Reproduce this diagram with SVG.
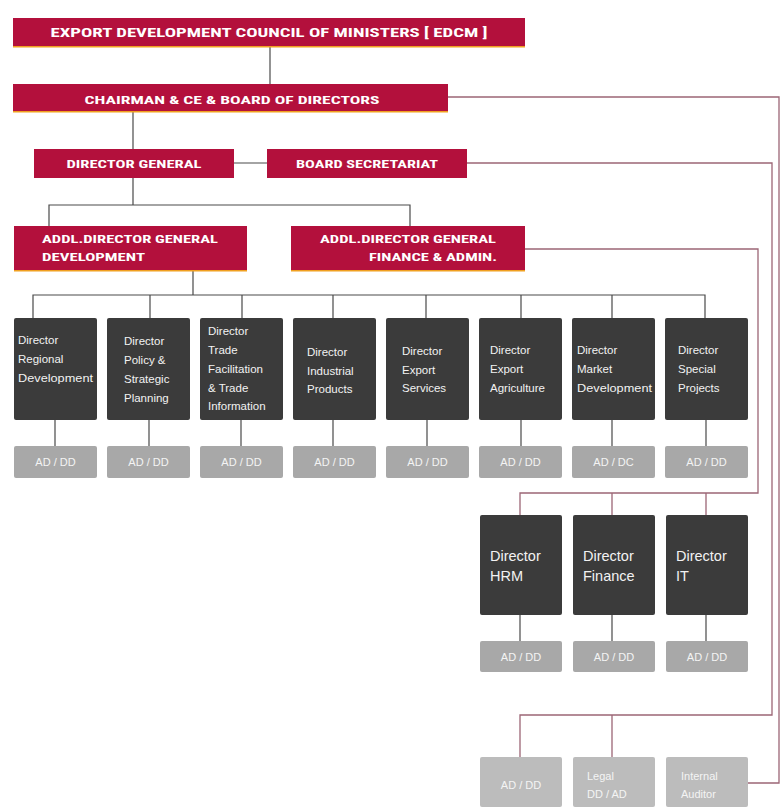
<svg xmlns="http://www.w3.org/2000/svg" width="780" height="810" viewBox="0 0 780 810">
<defs>
<style>
.red{fill:#b3103c;}
.redline{fill:#f0a020;}
.dark{fill:#3b3b3b;}
.gray{fill:#a8a8a8;}
.lgray{fill:#bcbcbc;}
.hd{font-family:"Liberation Sans Narrow","Roboto Condensed","Liberation Sans",sans-serif;font-weight:bold;fill:#fff;font-size:12px;}
.dt{font-family:"Liberation Sans","Roboto",sans-serif;fill:#f2f2f2;font-size:11.5px;}
.dt2{font-family:"Liberation Sans","Roboto",sans-serif;fill:#f2f2f2;font-size:14.5px;}
.ad{font-family:"Liberation Sans","Roboto",sans-serif;fill:#f4f4f4;font-size:11px;text-anchor:middle;}
.c{stroke:#4a4a4a;stroke-width:1.2;fill:none;}
.p{stroke:#9c6676;stroke-width:1.3;fill:none;}
</style>
</defs>
<rect width="780" height="810" fill="#ffffff"/>

<g id="connectors">
<path class="c" d="M270 47V84"/>
<path class="c" d="M133 112V149"/>
<path class="c" d="M234 163H267"/>
<path class="c" d="M133 178V205M49 226V205H410V226"/>
<path class="c" d="M193 271V295M33 318V295H705V318M150 295V318M242 295V318M333 295V318M426 295V318M521 295V318M612 295V318"/>
<path class="c" d="M55 420V446M149 420V446M241 420V446M333 420V446M427 420V446M521 420V446M612 420V446M706 420V446"/>
<path class="p" d="M525 249H758V493H520V515M612 493V515M706 493V515"/>
<path class="c" d="M520 615V641M612 615V641M706 615V641"/>
<path class="p" d="M467 163H772V715H520V757M612 715V757"/>
<path class="p" d="M448 97H779V783H748"/>
</g>

<g id="edcm">
<rect class="red" x="13" y="18" width="512" height="29"/>
<rect class="redline" x="13" y="46" width="512" height="1.5"/>
<text class="hd" x="269" y="37" text-anchor="middle" textLength="437" lengthAdjust="spacingAndGlyphs">EXPORT DEVELOPMENT COUNCIL OF MINISTERS [ EDCM ]</text>
</g>

<g id="chairman">
<rect class="red" x="13" y="84" width="435" height="28"/>
<rect class="redline" x="13" y="111" width="435" height="1.5"/>
<text class="hd" x="232" y="104" text-anchor="middle" textLength="295" lengthAdjust="spacingAndGlyphs" style="font-size:11px">CHAIRMAN &amp; CE &amp; BOARD OF DIRECTORS</text>
</g>

<g id="director-general">
<rect class="red" x="34" y="149" width="200" height="29"/>
<text class="hd" x="134" y="168" text-anchor="middle" textLength="135" lengthAdjust="spacingAndGlyphs" style="font-size:11px">DIRECTOR GENERAL</text>
</g>

<g id="board-secretariat">
<rect class="red" x="267" y="149" width="200" height="29"/>
<text class="hd" x="367" y="168" text-anchor="middle" textLength="142" lengthAdjust="spacingAndGlyphs" style="font-size:11px">BOARD SECRETARIAT</text>
</g>

<g id="adg-development">
<rect class="red" x="14" y="226" width="233" height="45"/>
<rect class="redline" x="14" y="270" width="233" height="1.5"/>
<text class="hd" x="42" y="243" textLength="176" lengthAdjust="spacingAndGlyphs" style="font-size:11px">ADDL.DIRECTOR GENERAL</text>
<text class="hd" x="42" y="261" textLength="103" lengthAdjust="spacingAndGlyphs" style="font-size:11px">DEVELOPMENT</text>
</g>

<g id="adg-finance">
<rect class="red" x="291" y="226" width="234" height="45"/>
<rect class="redline" x="291" y="270" width="234" height="1.5"/>
<text class="hd" x="320" y="243" textLength="176" lengthAdjust="spacingAndGlyphs" style="font-size:11px">ADDL.DIRECTOR GENERAL</text>
<text class="hd" x="497" y="261" text-anchor="end" textLength="128" lengthAdjust="spacingAndGlyphs" style="font-size:11px">FINANCE &amp; ADMIN.</text>
</g>

<g id="dir-regional">
<rect class="dark" x="14" y="318" width="83" height="102" rx="2"/>
<text class="dt" x="18" y="344">Director</text>
<text class="dt" x="18" y="363">Regional</text>
<text class="dt" x="18" y="382" textLength="75" lengthAdjust="spacingAndGlyphs">Development</text>
</g>
<g id="ad-regional"><rect class="gray" x="14" y="446" width="83" height="32" rx="2"/><text class="ad" x="55.5" y="466">AD / DD</text></g>

<g id="dir-policy">
<rect class="dark" x="107" y="318" width="83" height="102" rx="2"/>
<text class="dt" x="124" y="345">Director</text>
<text class="dt" x="124" y="364">Policy &amp;</text>
<text class="dt" x="124" y="383">Strategic</text>
<text class="dt" x="124" y="402">Planning</text>
</g>
<g id="ad-policy"><rect class="gray" x="107" y="446" width="83" height="32" rx="2"/><text class="ad" x="148.5" y="466">AD / DD</text></g>

<g id="dir-trade">
<rect class="dark" x="200" y="318" width="83" height="102" rx="2"/>
<text class="dt" x="208" y="335">Director</text>
<text class="dt" x="208" y="354">Trade</text>
<text class="dt" x="208" y="373">Facilitation</text>
<text class="dt" x="208" y="392">&amp; Trade</text>
<text class="dt" x="208" y="410">Information</text>
</g>
<g id="ad-trade"><rect class="gray" x="200" y="446" width="83" height="32" rx="2"/><text class="ad" x="241.5" y="466">AD / DD</text></g>

<g id="dir-industrial">
<rect class="dark" x="293" y="318" width="83" height="102" rx="2"/>
<text class="dt" x="307" y="356">Director</text>
<text class="dt" x="307" y="375">Industrial</text>
<text class="dt" x="307" y="393">Products</text>
</g>
<g id="ad-industrial"><rect class="gray" x="293" y="446" width="83" height="32" rx="2"/><text class="ad" x="334.5" y="466">AD / DD</text></g>

<g id="dir-services">
<rect class="dark" x="386" y="318" width="83" height="102" rx="2"/>
<text class="dt" x="402" y="355">Director</text>
<text class="dt" x="402" y="374">Export</text>
<text class="dt" x="402" y="392">Services</text>
</g>
<g id="ad-services"><rect class="gray" x="386" y="446" width="83" height="32" rx="2"/><text class="ad" x="427.5" y="466">AD / DD</text></g>

<g id="dir-agriculture">
<rect class="dark" x="479" y="318" width="83" height="102" rx="2"/>
<text class="dt" x="490" y="354">Director</text>
<text class="dt" x="490" y="373">Export</text>
<text class="dt" x="490" y="392">Agriculture</text>
</g>
<g id="ad-agriculture"><rect class="gray" x="479" y="446" width="83" height="32" rx="2"/><text class="ad" x="520.5" y="466">AD / DD</text></g>

<g id="dir-market">
<rect class="dark" x="572" y="318" width="83" height="102" rx="2"/>
<text class="dt" x="577" y="354">Director</text>
<text class="dt" x="577" y="373">Market</text>
<text class="dt" x="577" y="392" textLength="75" lengthAdjust="spacingAndGlyphs">Development</text>
</g>
<g id="ad-market"><rect class="gray" x="572" y="446" width="83" height="32" rx="2"/><text class="ad" x="613.5" y="466">AD / DC</text></g>

<g id="dir-special">
<rect class="dark" x="665" y="318" width="83" height="102" rx="2"/>
<text class="dt" x="678" y="354">Director</text>
<text class="dt" x="678" y="373">Special</text>
<text class="dt" x="678" y="392">Projects</text>
</g>
<g id="ad-special"><rect class="gray" x="665" y="446" width="83" height="32" rx="2"/><text class="ad" x="706.5" y="466">AD / DD</text></g>

<g id="dir-hrm">
<rect class="dark" x="480" y="515" width="82" height="100" rx="2"/>
<text class="dt2" x="490" y="561">Director</text>
<text class="dt2" x="490" y="581">HRM</text>
</g>
<g id="ad-hrm"><rect class="gray" x="480" y="641" width="82" height="31" rx="2"/><text class="ad" x="521" y="661">AD / DD</text></g>

<g id="dir-finance">
<rect class="dark" x="573" y="515" width="82" height="100" rx="2"/>
<text class="dt2" x="583" y="561">Director</text>
<text class="dt2" x="583" y="581">Finance</text>
</g>
<g id="ad-finance"><rect class="gray" x="573" y="641" width="82" height="31" rx="2"/><text class="ad" x="614" y="661">AD / DD</text></g>

<g id="dir-it">
<rect class="dark" x="666" y="515" width="82" height="100" rx="2"/>
<text class="dt2" x="676" y="561">Director</text>
<text class="dt2" x="676" y="581">IT</text>
</g>
<g id="ad-it"><rect class="gray" x="666" y="641" width="82" height="31" rx="2"/><text class="ad" x="707" y="661">AD / DD</text></g>

<g id="sec-ad">
<rect class="lgray" x="480" y="757" width="82" height="50" rx="2"/>
<text class="ad" x="521" y="789">AD / DD</text>
</g>
<g id="legal">
<rect class="lgray" x="573" y="757" width="82" height="50" rx="2"/>
<text class="ad" x="587" y="780" style="text-anchor:start">Legal</text>
<text class="ad" x="587" y="798" style="text-anchor:start">DD / AD</text>
</g>
<g id="internal-auditor">
<rect class="lgray" x="666" y="757" width="82" height="50" rx="2"/>
<text class="ad" x="681" y="780" style="text-anchor:start">Internal</text>
<text class="ad" x="681" y="798" style="text-anchor:start">Auditor</text>
</g>
</svg>
